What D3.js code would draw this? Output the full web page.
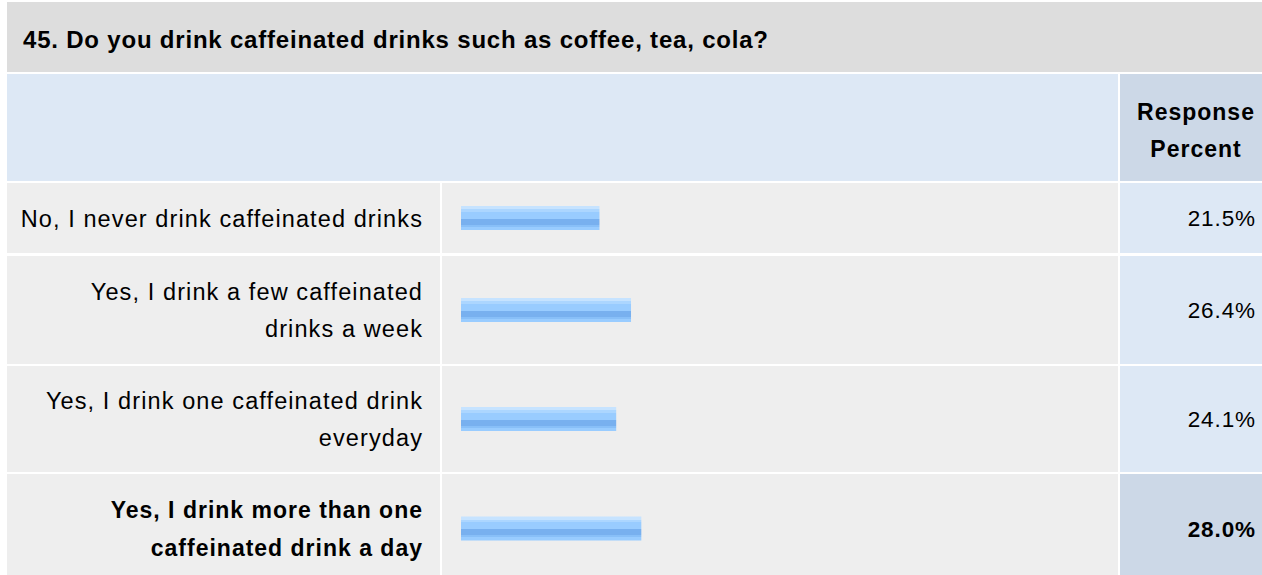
<!DOCTYPE html>
<html>
<head>
<meta charset="utf-8">
<script src="https://cdn.jsdelivr.net/npm/d3@7"></script>
<style>
  html, body { margin: 0; padding: 0; background: #ffffff; overflow: hidden; }
  svg { display: block; font-family: "Liberation Sans", Arial, Helvetica, sans-serif; }
</style>
</head>
<body>
<svg id="chart" width="1262" height="575"></svg>
<script>
// ---- data ----
const title = "45. Do you drink caffeinated drinks such as coffee, tea, cola?";
const headerLines = ["Response", "Percent"];
const categories = [
  ["No, I never drink caffeinated drinks"],
  ["Yes, I drink a few caffeinated", "drinks a week"],
  ["Yes, I drink one caffeinated drink", "everyday"],
  ["Yes, I drink more than one", "caffeinated drink a day"]
];
const percents = [21.5, 26.4, 24.1, 28.0];
const highlighted = [false, false, false, true];

// ---- layout ----
const svg = d3.select("#chart");
const W = 1262;
const leftX = 7, sep1 = 440, sep2 = 1118, gap = 2;
const titleTop = 2, titleBottom = 72;
const headTop = 74, headBottom = 181;
const rowTops = [183, 256, 366, 474];
const rowBottoms = [253, 364, 472, 583];

const x = d3.scaleLinear().domain([0, 100]).range([461, 461 + 644]);

// gradient for striped bars
const defs = svg.append("defs");
const grad = defs.append("linearGradient").attr("id", "barGrad")
  .attr("x1", 0).attr("y1", 0).attr("x2", 0).attr("y2", 1);
const stripes = [
  [0, 3, "#c6e3ff"], [3, 6, "#acd6ff"], [6, 13, "#99ccff"],
  [13, 19, "#78b0ef"], [19, 21, "#88bff8"], [21, 24, "#99ccff"]
];
stripes.forEach(([a, b, c]) => {
  grad.append("stop").attr("offset", a / 24).attr("stop-color", c);
  grad.append("stop").attr("offset", b / 24).attr("stop-color", c);
});

// title band
svg.append("rect").attr("x", leftX).attr("y", titleTop)
  .attr("width", W - leftX).attr("height", titleBottom - titleTop).attr("fill", "#dddddd");
svg.append("text").attr("x", 23).attr("y", 48)
  .attr("font-size", 24).attr("font-weight", "bold").attr("letter-spacing", 0.8)
  .attr("fill", "#000").text(title);

// header
svg.append("rect").attr("x", leftX).attr("y", headTop)
  .attr("width", sep2 - leftX).attr("height", headBottom - headTop).attr("fill", "#dde8f5");
svg.append("rect").attr("x", sep2 + gap).attr("y", headTop)
  .attr("width", W - sep2 - gap).attr("height", headBottom - headTop).attr("fill", "#ccd8e7");
svg.append("g").selectAll("text").data(headerLines).join("text")
  .attr("x", 1196).attr("y", (d, i) => 120 + i * 37)
  .attr("text-anchor", "middle").attr("font-size", 23).attr("font-weight", "bold")
  .attr("letter-spacing", 1).attr("fill", "#000").text(d => d);

// rows
const rows = svg.append("g").selectAll("g").data(percents).join("g");

rows.append("rect").attr("x", leftX).attr("y", (d, i) => rowTops[i])
  .attr("width", sep1 - leftX).attr("height", (d, i) => rowBottoms[i] - rowTops[i])
  .attr("fill", "#eeeeee");
rows.append("rect").attr("x", sep1 + gap).attr("y", (d, i) => rowTops[i])
  .attr("width", sep2 - sep1 - gap).attr("height", (d, i) => rowBottoms[i] - rowTops[i])
  .attr("fill", "#eeeeee");
rows.append("rect").attr("x", sep2 + gap).attr("y", (d, i) => rowTops[i])
  .attr("width", W - sep2 - gap).attr("height", (d, i) => rowBottoms[i] - rowTops[i])
  .attr("fill", (d, i) => highlighted[i] ? "#ccd8e7" : "#dde8f5");

// bars
rows.append("rect")
  .attr("x", x(0))
  .attr("y", (d, i) => (rowTops[i] + rowBottoms[i]) / 2 - 12)
  .attr("width", d => x(d) - x(0))
  .attr("height", 24)
  .attr("fill", "url(#barGrad)");

// labels
rows.each(function (d, i) {
  const g = d3.select(this);
  const lines = categories[i];
  const center = (rowTops[i] + rowBottoms[i]) / 2;
  const lh = 37.4;
  const base = center + 8.5 - (lines.length - 1) * lh / 2;
  g.selectAll("text.lab").data(lines).join("text").attr("class", "lab")
    .attr("x", 423).attr("y", (t, j) => base + j * lh)
    .attr("text-anchor", "end").attr("font-size", highlighted[i] ? 23 : 23.5)
    .attr("font-weight", highlighted[i] ? "bold" : "normal")
    .attr("letter-spacing", highlighted[i] ? 1 : 1.1).attr("fill", "#000").text(t => t);
  g.append("text").attr("x", 1256).attr("y", center + 8.3)
    .attr("text-anchor", "end").attr("font-size", 22.5)
    .attr("font-weight", highlighted[i] ? "bold" : "normal")
    .attr("letter-spacing", 0.9).attr("fill", "#000")
    .text(d3.format(".1f")(d) + "%");
});
</script>
</body>
</html>
